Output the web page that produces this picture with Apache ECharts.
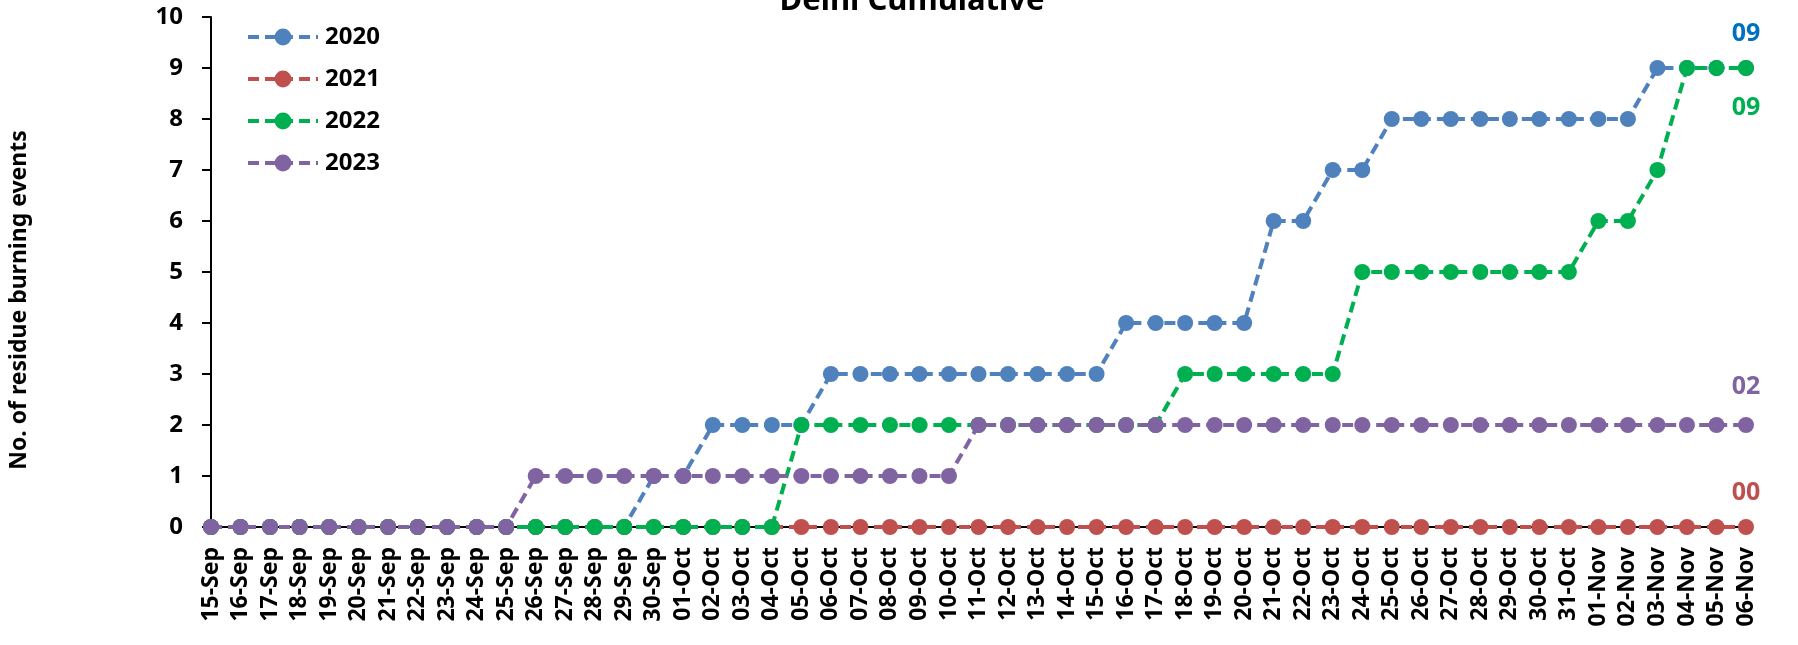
<!DOCTYPE html>
<html>
<head>
<meta charset="utf-8">
<script src="https://cdn.jsdelivr.net/npm/echarts@6/dist/echarts.min.js"></script>
<style>
html,body{margin:0;padding:0;background:#fff;}
#chart{width:1798px;height:645px;}
</style>
</head>
<body>
<div id="chart"></div>
<script>
const categories = ['15-Sep','16-Sep','17-Sep','18-Sep','19-Sep','20-Sep','21-Sep','22-Sep','23-Sep','24-Sep','25-Sep','26-Sep','27-Sep','28-Sep','29-Sep','30-Sep',
'01-Oct','02-Oct','03-Oct','04-Oct','05-Oct','06-Oct','07-Oct','08-Oct','09-Oct','10-Oct','11-Oct','12-Oct','13-Oct','14-Oct','15-Oct','16-Oct','17-Oct','18-Oct','19-Oct','20-Oct','21-Oct','22-Oct','23-Oct','24-Oct','25-Oct','26-Oct','27-Oct','28-Oct','29-Oct','30-Oct','31-Oct',
'01-Nov','02-Nov','03-Nov','04-Nov','05-Nov','06-Nov'];

const y2020 = [0,0,0,0,0,0,0,0,0,0,0,0,0,0,0,1,
1,2,2,2,2,3,3,3,3,3,3,3,3,3,3,4,4,4,4,4,6,6,7,7,8,8,8,8,8,8,8,
8,8,9,9,9,9];
const y2021 = [0,0,0,0,0,0,0,0,0,0,0,0,0,0,0,0,
0,0,0,0,0,0,0,0,0,0,0,0,0,0,0,0,0,0,0,0,0,0,0,0,0,0,0,0,0,0,0,
0,0,0,0,0,0];
const y2022 = [0,0,0,0,0,0,0,0,0,0,0,0,0,0,0,0,
0,0,0,0,2,2,2,2,2,2,2,2,2,2,2,2,2,3,3,3,3,3,3,5,5,5,5,5,5,5,5,
6,6,7,9,9,9];
const y2023 = [0,0,0,0,0,0,0,0,0,0,0,1,1,1,1,1,
1,1,1,1,1,1,1,1,1,1,2,2,2,2,2,2,2,2,2,2,2,2,2,2,2,2,2,2,2,2,2,
2,2,2,2,2,2];
const seriesNames = ['2020','2021','2022','2023'];
const yTicks = [0,1,2,3,4,5,6,7,8,9,10];

const FONT = '"Noto Sans", "Open Sans", sans-serif';
const lineColors = ['#4F81BD','#C0504D','#00B050','#8064A2'];
const labelColors = ['#0070C0','#C0504D','#00B050','#8064A2'];
const labelPos = ['top','top','bottom','top'];
const labelDist = [14,14,19,18];

function buildData(arr, i){
  return arr.map((v, k) => {
    if (k !== arr.length - 1) return v;
    return {
      value: v,
      label: {
        show: true,
        position: labelPos[i],
        distance: labelDist[i],
        formatter: (p) => String(p.value).padStart(2,'0'),
        color: labelColors[i],
        fontFamily: FONT,
        fontWeight: 'bold',
        fontSize: 25
      }
    };
  });
}

const allData = [y2020, y2021, y2022, y2023];
const series = allData.map((arr, i) => ({
  name: seriesNames[i],
  type: 'line',
  data: buildData(arr, i),
  symbol: 'circle',
  symbolSize: 16,
  showSymbol: true,
  lineStyle: { color: lineColors[i], width: 4, type: [11, 6] },
  itemStyle: { color: lineColors[i] },
  emphasis: { disabled: true },
  animation: false
}));

const chart = echarts.init(document.getElementById('chart'), null, {renderer: 'canvas'});
chart.setOption({
  backgroundColor: '#fff',
  animation: false,
  title: {
    text: 'Delhi Cumulative',
    left: 907,
    textAlign: 'center',
    top: -19,
    textStyle: { fontFamily: FONT, fontWeight: 'bold', fontSize: 31, color: '#000' }
  },
  legend: {
    orient: 'vertical',
    left: 241,
    top: 19,
    itemWidth: 70,
    itemHeight: 21,
    itemGap: 16,
    data: seriesNames,
    lineStyle: { width: 4 },
    textStyle: { fontFamily: FONT, fontWeight: 'bold', fontSize: 24, color: '#000', lineHeight: 26, padding: [0,0,0,2] }
  },
  grid: { left: 211, right: 52, top: 17, bottom: 118, containLabel: false },
  xAxis: {
    type: 'category',
    data: categories,
    boundaryGap: false,
    axisLine: { show: true, lineStyle: { color: '#000', width: 2 } },
    axisTick: { show: true, length: 5, interval: 0, lineStyle: { color: '#000', width: 2 } },
    axisLabel: {
      interval: 0,
      rotate: 90,
      margin: 20,
      color: '#000',
      fontFamily: FONT,
      fontWeight: 'bold',
      fontSize: 23
    },
    splitLine: { show: false }
  },
  yAxis: {
    type: 'value',
    min: yTicks[0],
    max: yTicks[yTicks.length - 1],
    interval: 1,
    name: 'No. of residue burning events',
    nameLocation: 'middle',
    nameGap: 180,
    nameTextStyle: { fontFamily: FONT, fontWeight: 'bold', fontSize: 23, color: '#000', padding: [0, 56, 0, 0] },
    axisLine: { show: true, lineStyle: { color: '#000', width: 2 } },
    axisTick: { show: true, length: 9, lineStyle: { color: '#000', width: 2 } },
    axisLabel: {
      margin: 28,
      color: '#000',
      fontFamily: FONT,
      fontWeight: 'bold',
      fontSize: 24
    },
    splitLine: { show: false }
  },
  series: series
});
</script>
</body>
</html>
